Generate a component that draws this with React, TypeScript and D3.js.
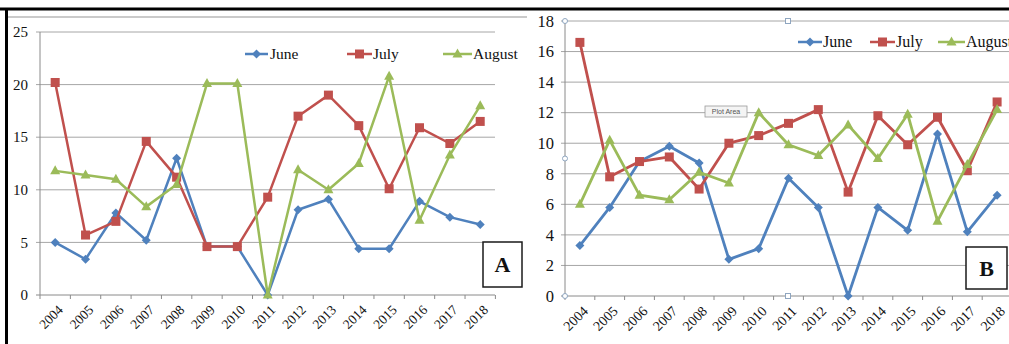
import React from "react";
import * as d3 from "d3";

// years on the x axis (both panels)
const years = ["2004", "2005", "2006", "2007", "2008", "2009", "2010", "2011", "2012", "2013", "2014", "2015", "2016", "2017", "2018"];
const seriesNames = ["June", "July", "August"];

// panel A values
const juneA = [5.0, 3.4, 7.8, 5.2, 13.0, 4.6, 4.6, 0, 8.1, 9.1, 4.4, 4.4, 8.9, 7.4, 6.7];
const julyA = [20.2, 5.7, 7.0, 14.6, 11.2, 4.6, 4.6, 9.3, 17.0, 19.0, 16.1, 10.1, 15.9, 14.4, 16.5];
const augustA = [11.8, 11.4, 11.0, 8.4, 10.5, 20.1, 20.1, 0, 11.9, 10.0, 12.5, 20.8, 7.1, 13.3, 18.0];

// panel B values
const juneB = [3.3, 5.8, 8.8, 9.8, 8.7, 2.4, 3.1, 7.7, 5.8, 0, 5.8, 4.3, 10.6, 4.2, 6.6];
const julyB = [16.6, 7.8, 8.8, 9.1, 7.0, 10.0, 10.5, 11.3, 12.2, 6.8, 11.8, 9.9, 11.7, 8.2, 12.7];
const augustB = [6.0, 10.2, 6.6, 6.3, 8.1, 7.4, 12.0, 9.9, 9.2, 11.2, 9.0, 11.9, 4.9, 8.6, 12.2];

const ticksA = [0, 5, 10, 15, 20, 25];
const ticksB = [0, 2, 4, 6, 8, 10, 12, 14, 16, 18];

const colors = ["#4F81BD", "#C0504D", "#9BBB59"];
const FONT = "'Liberation Serif', 'Times New Roman', serif";

type Layout = {
  left: number;
  right: number;
  top: number;
  bottom: number;
  gridRight: number;
  labelX: number;
  tickFont: number;
  yearFont: number;
  legendFont: number;
  stroke: number;
  legendY: number;
  legend: { x1: number; x2: number; tx: number }[];
  box: { x: number; y: number; w: number; h: number; text: string };
};

const Marker = ({ kind, x, y, color }: { kind: number; x: number; y: number; color: string }) => {
  if (kind === 0) {
    const s = 4.5;
    return <path d={`M${x},${y - s}L${x + s},${y}L${x},${y + s}L${x - s},${y}Z`} fill={color} />;
  }
  if (kind === 1) {
    return <rect x={x - 4.5} y={y - 4.5} width={9} height={9} fill={color} />;
  }
  return <path d={`M${x},${y - 5.5}L${x + 5},${y + 3.5}L${x - 5},${y + 3.5}Z`} fill={color} />;
};

const Panel = ({ series, ticks, yMax, L }: { series: number[][]; ticks: number[]; yMax: number; L: Layout }) => {
  const x = d3.scaleBand().domain(years).range([L.left, L.right]);
  const y = d3.scaleLinear().domain([0, yMax]).range([L.bottom, L.top]);
  const cx = (d: string) => (x(d) as number) + x.bandwidth() / 2;
  const line = d3
    .line<number>()
    .x((_, i) => cx(years[i]))
    .y((d) => y(d));

  return (
    <g>
      {/* gridlines */}
      {ticks.map((t) => (
        <line key={t} x1={L.left - 4} x2={L.gridRight} y1={y(t)} y2={y(t)} stroke={t === 0 ? "#8a8a8a" : "#a6a6a6"} strokeWidth={1} />
      ))}
      <line x1={L.left} x2={L.left} y1={L.top} y2={L.bottom} stroke="#8a8a8a" />
      {/* x tick marks */}
      {years.concat(["end"]).map((d, i) => {
        const xx = L.left + i * x.bandwidth();
        return <line key={d} x1={xx} x2={xx} y1={L.bottom} y2={L.bottom + 4} stroke="#8a8a8a" />;
      })}
      {/* y labels */}
      {ticks.map((t) => (
        <text key={t} x={L.labelX} y={y(t)} dy="0.35em" textAnchor="end" fontFamily={FONT} fontSize={L.tickFont} fill="#111">
          {t}
        </text>
      ))}
      {/* x labels */}
      {years.map((d) => (
        <text
          key={d}
          transform={`translate(${cx(d) + 2},${L.bottom + 9}) rotate(-45)`}
          dy="0.7em"
          textAnchor="end"
          fontFamily={FONT}
          fontSize={L.yearFont}
          fill="#111"
        >
          {d}
        </text>
      ))}
      {/* lines */}
      {series.map((s, k) => (
        <g key={k}>
          <path d={line(s) as string} fill="none" stroke={colors[k]} strokeWidth={L.stroke} strokeLinejoin="round" />
          {s.map((v, i) => (
            <Marker key={i} kind={k} x={cx(years[i])} y={y(v)} color={colors[k]} />
          ))}
        </g>
      ))}
      {/* legend */}
      {L.legend.map((g, k) => (
        <g key={k}>
          <line x1={g.x1} x2={g.x2} y1={L.legendY} y2={L.legendY} stroke={colors[k]} strokeWidth={2.5} />
          <Marker kind={k} x={(g.x1 + g.x2) / 2} y={L.legendY} color={colors[k]} />
          <text x={g.tx} y={L.legendY} dy="0.33em" fontFamily={FONT} fontSize={L.legendFont} fill="#111">
            {seriesNames[k]}
          </text>
        </g>
      ))}
      {/* panel letter */}
      <rect x={L.box.x} y={L.box.y} width={L.box.w} height={L.box.h} fill="#fff" stroke="#1a1a1a" strokeWidth={1.5} />
      <text
        x={L.box.x + L.box.w / 2}
        y={L.box.y + L.box.h / 2}
        dy="0.36em"
        textAnchor="middle"
        fontFamily={FONT}
        fontWeight="bold"
        fontSize={22}
        fill="#111"
      >
        {L.box.text}
      </text>
    </g>
  );
};

const layoutA: Layout = {
  left: 40,
  right: 495.4,
  top: 32,
  bottom: 295,
  gridRight: 495,
  labelX: 28,
  tickFont: 15,
  yearFont: 13.5,
  legendFont: 15.5,
  stroke: 2.5,
  legendY: 54,
  legend: [
    { x1: 245, x2: 268, tx: 270 },
    { x1: 347, x2: 372, tx: 373 },
    { x1: 443, x2: 472, tx: 473 },
  ],
  box: { x: 483, y: 242, w: 39, h: 45, text: "A" },
};

const layoutB: Layout = {
  left: 565,
  right: 1012,
  top: 21,
  bottom: 296,
  gridRight: 1009,
  labelX: 554,
  tickFont: 16.5,
  yearFont: 14,
  legendFont: 16,
  stroke: 2.8,
  legendY: 42,
  legend: [
    { x1: 798, x2: 822, tx: 823 },
    { x1: 870, x2: 895, tx: 896 },
    { x1: 938, x2: 965, tx: 966 },
  ],
  box: { x: 966, y: 247, w: 41, h: 42, text: "B" },
};

export default function App() {
  return (
    <svg width={1009} height={344} style={{ position: "absolute", left: 0, top: 0, background: "#fff" }}>
      <rect width={1009} height={344} fill="#fff" />
      {/* chart frame of panel A */}
      <line x1={8} x2={527} y1={17} y2={17} stroke="#b8b8b8" strokeWidth={1.5} />
      <Panel series={[juneA, julyA, augustA]} ticks={ticksA} yMax={25} L={layoutA} />
      <Panel series={[juneB, julyB, augustB]} ticks={ticksB} yMax={18} L={layoutB} />
      {/* selection handles of the plot area in B */}
      {[21, 158.5, 296].map((yy) => (
        <circle key={yy} cx={565} cy={yy} r={2.5} fill="#fff" stroke="#8fa6c0" />
      ))}
      {[21, 296].map((yy) => (
        <rect key={yy} x={785.5} y={yy - 2.5} width={5} height={5} fill="#fff" stroke="#8fa6c0" />
      ))}
      <rect x={705} y={106} width={42} height={11} fill="#f4f4f4" stroke="#9a9a9a" strokeWidth={0.8} />
      <text x={726} y={111.5} dy="0.35em" textAnchor="middle" fontFamily="'Liberation Sans', sans-serif" fontSize={7} fill="#555">
        Plot Area
      </text>
      {/* outer black border */}
      <line x1={0} x2={1009} y1={9} y2={9} stroke="#000" strokeWidth={3} />
      <line x1={6.5} x2={6.5} y1={8} y2={344} stroke="#000" strokeWidth={3} />
    </svg>
  );
}
